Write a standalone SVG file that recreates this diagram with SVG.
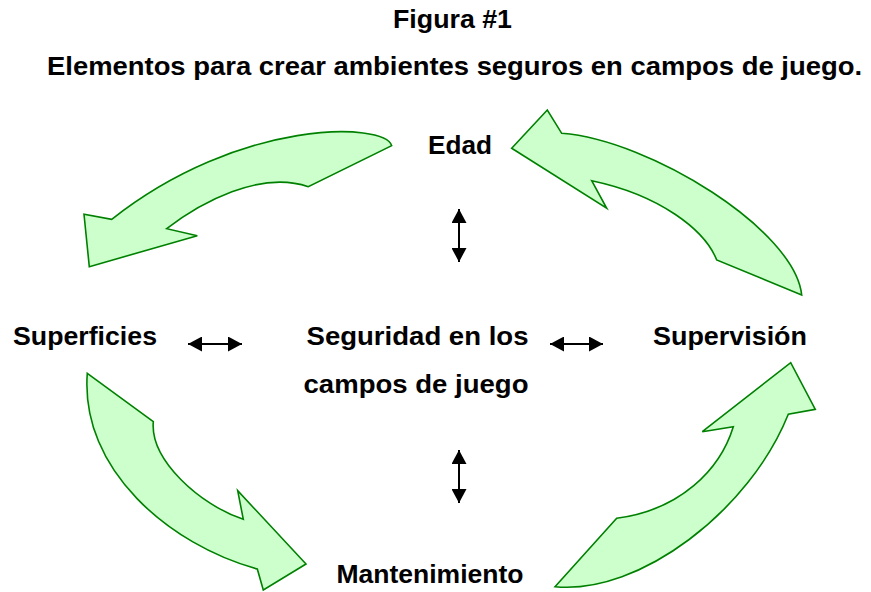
<svg xmlns="http://www.w3.org/2000/svg" width="871" height="592" viewBox="0 0 871 592">
<style>
text{font-family:"Liberation Sans",Arial,sans-serif;font-weight:bold;font-size:26px;fill:#000}
.cyc{fill:#CCFFCC;stroke:#008000;stroke-width:1.6;stroke-linejoin:miter}
.dbl{stroke:#000;stroke-width:2;fill:none;marker-start:url(#ah);marker-end:url(#ah)}
</style>
<defs>
<marker id="ah" markerUnits="userSpaceOnUse" markerWidth="15" markerHeight="15" refX="14" refY="7.5" orient="auto-start-reverse">
<path d="M0,0 L14,7.5 L0,15 z" fill="#000"/>
</marker>
</defs>
<rect width="871" height="592" fill="#fff"/>
<g id="title">
<text x="393" y="28" textLength="119" lengthAdjust="spacingAndGlyphs">Figura #1</text>
<text x="47" y="75" textLength="815" lengthAdjust="spacingAndGlyphs">Elementos para crear ambientes seguros en campos de juego.</text>
</g>
<g id="cycle-arrows">
<path id="arrow-edad-superficies" class="cyc" d="M391.7,145.7 C385,122 240,118 111.7,219.3 L84,214.3 L89.3,266.7 L197.3,235.7 L166.7,228.7 C200,203 260,170 308.3,186.7 Z"/>
<path id="arrow-supervision-edad" class="cyc" d="M511.7,148.3 L547.3,110 L561.7,133.3 C650,140 795,230 801.7,295 L716.7,260 C705,230 660,195 591.7,180.7 L606.7,208.3 Z"/>
<path id="arrow-superficies-mantenimiento" class="cyc" d="M87.3,373.3 L153.3,421.7 C150,460 200,505 243.3,519.3 L237.7,490.7 L306,564 L263.3,590 L257.3,569 C170,545 80,470 87.3,373.3 Z"/>
<path id="arrow-mantenimiento-supervision" class="cyc" d="M555,586.7 L616.7,518.3 C680,510 720,470 733.3,426.7 L702.3,431.7 L790.7,362.7 L815.3,409.3 L788.3,414.3 C750,510 640,595 555,586.7 Z"/>
</g>
<g id="node-edad"><text x="428" y="154" textLength="64" lengthAdjust="spacingAndGlyphs">Edad</text></g>
<g id="node-superficies"><text x="13" y="345" textLength="144" lengthAdjust="spacingAndGlyphs">Superficies</text></g>
<g id="node-supervision"><text x="653" y="345" textLength="154" lengthAdjust="spacingAndGlyphs">Supervisión</text></g>
<g id="node-mantenimiento"><text x="336.5" y="583" textLength="187" lengthAdjust="spacingAndGlyphs">Mantenimiento</text></g>
<g id="node-center">
<text x="306.5" y="345" textLength="222" lengthAdjust="spacingAndGlyphs">Seguridad en los</text>
<text x="303.5" y="392.5" textLength="225" lengthAdjust="spacingAndGlyphs">campos de juego</text>
</g>
<g id="connectors">
<line class="dbl" x1="459" y1="209" x2="459" y2="262"/>
<line class="dbl" x1="459" y1="450" x2="459" y2="503"/>
<line class="dbl" x1="188" y1="344" x2="242" y2="344"/>
<line class="dbl" x1="550" y1="344" x2="603" y2="344"/>
</g>
</svg>
